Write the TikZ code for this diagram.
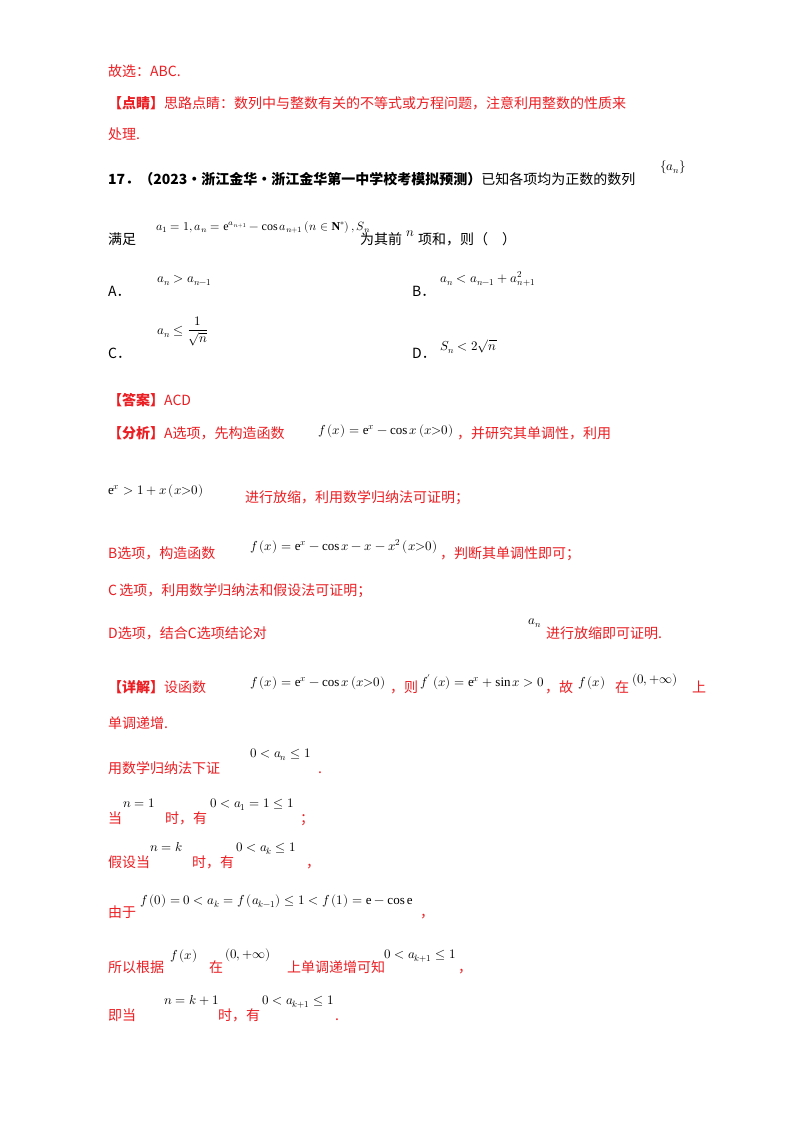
\documentclass[tikz,border=0pt]{standalone}
\usepackage{amsmath}
\usepackage{fontspec}
\usepackage{unicode-math}
\setmainfont{Liberation Serif}
\setmathfont{Latin Modern Math}
\newfontfamily\cjk{Noto Sans CJK SC}
\definecolor{rd}{RGB}{235,30,35}
\begin{document}
\begin{tikzpicture}[x=1pt,y=-1pt,
  t/.style={anchor=base west,inner sep=0pt,text=rd,font=\cjk\fontsize{14}{16}\selectfont},
  tb/.style={anchor=base west,inner sep=0pt,text=black,font=\cjk\fontsize{14}{16}\selectfont},
  m/.style={anchor=base west,inner sep=0pt,text=black,font=\fontsize{13}{15}\selectfont}]
\fill[white] (0,0) rectangle (800,1132);
\node[t] (l1) at (108,77) {故选：ABC.};
\node[t] (l2) at (108,108) {\textbf{【点睛】}思路点睛：数列中与整数有关的不等式或方程问题，注意利用整数的性质来};
\node[t] (l3) at (108,139) {处理.};
\node[tb] (q1) at (108,184) {\textbf{17．（2023·浙江金华·浙江金华第一中学校考模拟预测）}已知各项均为正数的数列};
\node[m] (q1m) at (660,170) {$\left\{a_n\right\}$};
\node[tb] (q2) at (108,244) {满足};
\node[m,font=\fontsize{12}{14}\selectfont] (q2m) at (156,230) {$a_1=1,a_n=\mathrm{e}^{a_{n+1}}-\cos a_{n+1}\left(n\in\mathbf{N}^*\right),S_n$};
\node[tb] (q2b) at (360,244) {为其前};
\node[m] (q2n) at (406,236) {$n$};
\node[tb] (q2c) at (418,244) {项和，则（\quad）};
\node[tb] (oa) at (108,296) {A．};
\node[m] (oam) at (157,282) {$a_n>a_{n-1}$};
\node[tb] (ob) at (412,296) {B．};
\node[m] (obm) at (440,282) {$a_n<a_{n-1}+a_{n+1}^2$};
\node[tb] (oc) at (108,358) {C．};
\node[m] (ocm) at (157,334) {$a_n\le\dfrac{1}{\sqrt n}$};
\node[tb] (od) at (412,358) {D．};
\node[m] (odm) at (440,350) {$S_n<2\sqrt n$};
\node[t] (ans) at (108,405) {\textbf{【答案】}ACD};
\node[t] (f1) at (108,438) {\textbf{【分析】}A选项，先构造函数};
\node[m] (f1m) at (318,434) {$f\left(x\right)=\mathrm{e}^x-\cos x\left(x{>}0\right)$};
\node[t] (f1b) at (457,438) {，并研究其单调性，利用};
\node[m] (f2m) at (108,494) {$\mathrm{e}^x>1+x\left(x{>}0\right)$};
\node[t] (f2) at (245,502) {进行放缩，利用数学归纳法可证明；};
\node[t] (f3) at (108,558) {B选项，构造函数};
\node[m] (f3m) at (250,550) {$f\left(x\right)=\mathrm{e}^x-\cos x-x-x^2\left(x{>}0\right)$};
\node[t] (f3b) at (440,558) {，判断其单调性即可；};
\node[t] (f4) at (108,595) {C\,选项，利用数学归纳法和假设法可证明；};
\node[t] (f5) at (108,638) {D选项，结合C选项结论对};
\node[m] (f5m) at (528,624) {$a_n$};
\node[t] (f5b) at (546,638) {进行放缩即可证明.};
\node[t] (d1) at (108,692) {\textbf{【详解】}设函数};
\node[m] (d1m) at (250,686) {$f\left(x\right)=\mathrm{e}^x-\cos x\left(x{>}0\right)$};
\node[t] (d1b) at (390,692) {，则};
\node[m] (d1m2) at (420,686) {$f'\left(x\right)=\mathrm{e}^x+\sin x>0$};
\node[t] (d1c) at (545,692) {，故};
\node[m] (d1m3) at (578,686) {$f\left(x\right)$};
\node[t] (d1d) at (615,692) {在};
\node[m] (d1m4) at (632,683) {$\left(0,+\infty\right)$};
\node[t] (d1e) at (692,692) {上};
\node[t] (d2) at (108,728) {单调递增.};
\node[t] (d3) at (108,773) {用数学归纳法下证};
\node[m] (d3m) at (250,757) {$0<a_n\le1$};
\node[t] (d3b) at (318,773) {.};
\node[t] (d4) at (108,823) {当};
\node[m] (d4m) at (123,807) {$n=1$};
\node[t] (d4b) at (165,823) {时，有};
\node[m] (d4m2) at (210,807) {$0<a_1=1\le1$};
\node[t] (d4c) at (300,823) {；};
\node[t] (d5) at (108,867) {假设当};
\node[m] (d5m) at (150,851) {$n=k$};
\node[t] (d5b) at (192,867) {时，有};
\node[m] (d5m2) at (236,851) {$0<a_k\le1$};
\node[t] (d5c) at (306,867) {，};
\node[t] (d6) at (108,917) {由于};
\node[m] (d6m) at (140,904) {$f\left(0\right)=0<a_k=f\left(a_{k-1}\right)\le1<f\left(1\right)=\mathrm{e}-\cos\mathrm{e}$};
\node[t] (d6b) at (420,917) {，};
\node[t] (d7) at (108,972) {所以根据};
\node[m] (d7m) at (170,959) {$f\left(x\right)$};
\node[t] (d7b) at (209,972) {在};
\node[m] (d7m2) at (225,958) {$\left(0,+\infty\right)$};
\node[t] (d7c) at (287,972) {上单调递增可知};
\node[m] (d7m3) at (384,958) {$0<a_{k+1}\le1$};
\node[t] (d7d) at (458,972) {，};
\node[t] (d8) at (108,1020) {即当};
\node[m] (d8m) at (164,1004) {$n=k+1$};
\node[t] (d8b) at (218,1020) {时，有};
\node[m] (d8m2) at (262,1004) {$0<a_{k+1}\le1$};
\node[t] (d8c) at (335,1020) {.};
\end{tikzpicture}
\end{document}
